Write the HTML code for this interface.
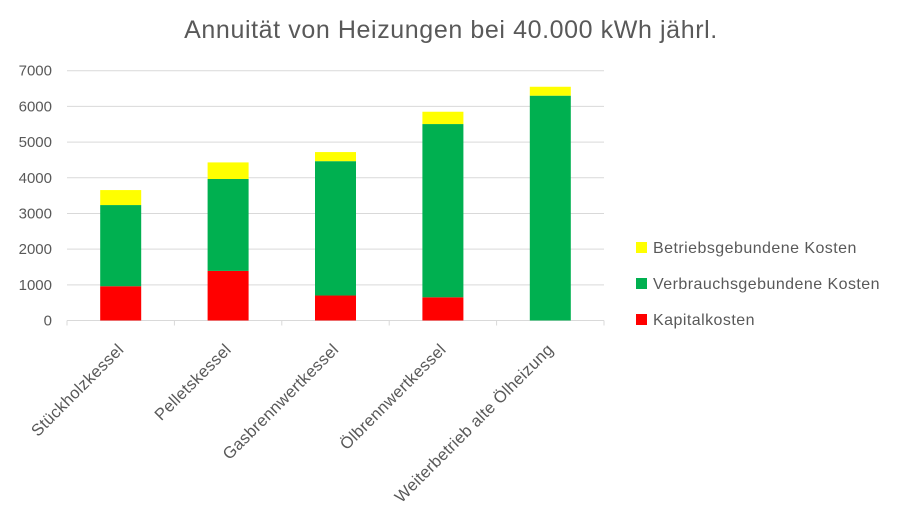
<!DOCTYPE html>
<html><head><meta charset="utf-8"><style>
body{margin:0;background:#fff;font-family:"Liberation Sans",sans-serif}
</style></head><body>
<svg id="chart" width="900" height="518" xmlns="http://www.w3.org/2000/svg">
<text x="451" y="38" text-anchor="middle" font-size="25" letter-spacing="0.6" fill="#595959">Annuität von Heizungen bei 40.000 kWh jährl.</text>
<g id="grid"></g><g id="bars"></g><g id="xlabels"></g>
</svg>
<script>
const categories=["Stückholzkessel","Pelletskessel","Gasbrennwertkessel","Ölbrennwertkessel","Weiterbetrieb alte Ölheizung"];
const kapital=[960,1390,700,650,0];
const verbrauch=[2275,2575,3765,4855,6300];
const betrieb=[420,465,255,345,250];
const yTicks=[0,1000,2000,3000,4000,5000,6000,7000];
const NS="http://www.w3.org/2000/svg";
const x0=67,x1=604,y0=320.5,yTop=70.7,yMax=7000;
const cw=(x1-x0)/categories.length,bw=41;
const Y=v=>y0-(v/yMax)*(y0-yTop);
function mk(t,a,p){const e=document.createElementNS(NS,t);for(const k in a)e.setAttribute(k,a[k]);p.appendChild(e);return e;}
const g=document.getElementById('grid'),b=document.getElementById('bars'),xl=document.getElementById('xlabels');
yTicks.forEach(v=>{
 const l=mk('line',{x1:x0,x2:x1,y1:Y(v),y2:Y(v),stroke:'#d9d9d9','stroke-width':1},g);
 
 
 const t=mk('text',{x:52,y:Y(v)+5,'text-anchor':'end','font-size':15,fill:'#595959'},g);
 t.textContent=v;
 
 
});
for(let i=0;i<=categories.length;i++){
 const tk=mk('line',{x1:x0+i*cw,x2:x0+i*cw,y1:y0,y2:y0+5,stroke:'#d9d9d9'},g);
 
 
}
const series=[[kapital,'#ff0000','kapital'],[verbrauch,'#00b050','verbrauch'],[betrieb,'#ffff00','betrieb']];
categories.forEach((c,i)=>{
 const cx=x0+cw*(i+0.5);let acc=0;
 series.forEach(([arr,col,nm])=>{
  const v=arr[i];if(v<=0)return;
  const r=mk('rect',{x:cx-bw/2,y:Y(acc+v),width:bw,height:Y(acc)-Y(acc+v),fill:col},b);
  
  
  acc+=v;
 });
 const lx=cx+4, ly=y0+30;
 const t=mk('text',{x:lx,y:ly,'text-anchor':'end','font-size':16.5,'letter-spacing':0.3,fill:'#595959',transform:`rotate(-45 ${lx} ${ly})`},xl);
 t.textContent=c;
 
 
});
const leg=[['Betriebsgebundene Kosten','#ffff00',248],['Verbrauchsgebundene Kosten','#00b050',284],['Kapitalkosten','#ff0000',320]];
leg.forEach(([n,col,y],i)=>{
 const r=mk('rect',{x:636,y:y-6,width:11,height:11,fill:col},b);
 
 
 const t=mk('text',{x:653,y:y+5,'font-size':16,'letter-spacing':0.45,fill:'#595959'},b);
 t.textContent=n;
 
 
});
</script>
</body></html>
